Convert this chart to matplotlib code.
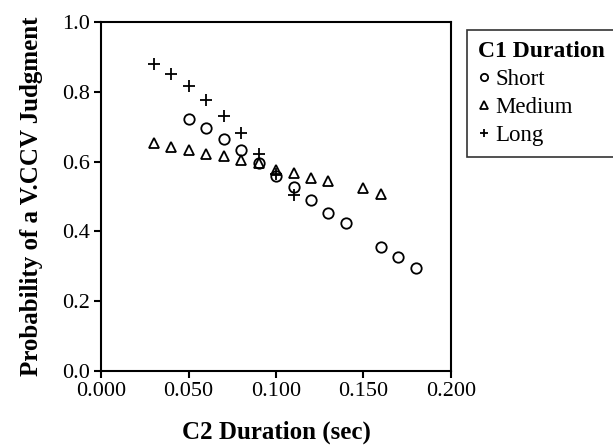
import matplotlib
matplotlib.use("Agg")
import matplotlib.pyplot as plt

# =====================
# data
# =====================
short_x = [0.05, 0.06, 0.07, 0.08, 0.09, 0.10, 0.11, 0.12, 0.13, 0.14, 0.16, 0.17, 0.18]
short_y = [0.721, 0.695, 0.665, 0.633, 0.597, 0.560, 0.526, 0.491, 0.454, 0.425, 0.356, 0.328, 0.296]

medium_x = [0.03, 0.04, 0.05, 0.06, 0.07, 0.08, 0.09, 0.10, 0.11, 0.12, 0.13, 0.15, 0.16]
medium_y = [0.652, 0.643, 0.633, 0.623, 0.615, 0.604, 0.595, 0.575, 0.566, 0.554, 0.543, 0.524, 0.508]

long_x = [0.03, 0.04, 0.05, 0.06, 0.07, 0.08, 0.09, 0.10, 0.11]
long_y = [0.879, 0.851, 0.816, 0.776, 0.730, 0.683, 0.622, 0.565, 0.503]

x_ticks = [0.0, 0.05, 0.10, 0.15, 0.20]
y_ticks = [0.0, 0.2, 0.4, 0.6, 0.8, 1.0]

plt.rcParams['font.family'] = ['Liberation Serif', 'DejaVu Serif']

fig = plt.figure(figsize=(6.13, 4.46), dpi=100)
ax = fig.add_axes([0.1648, 0.1682, 0.5709, 0.7825])

mk = dict(linestyle='none', color='black', mfc='none', mew=1.3)
ax.plot(short_x, short_y, marker='o', ms=7.5, label='Short', **mk)
ax.plot(medium_x, medium_y, marker='^', ms=7.5, label='Medium', **mk)
ax.plot(long_x, long_y, marker='+', ms=8.5, label='Long', **mk)

ax.set_xlim(0, 0.2)
ax.set_ylim(0, 1.0)
ax.set_xticks(x_ticks)
ax.set_xticklabels([f"{t:.3f}" for t in x_ticks])
ax.set_yticks(y_ticks)
ax.set_yticklabels([f"{t:.1f}" for t in y_ticks])
ax.tick_params(direction='out', length=5, width=1.5, labelsize=16, pad=3)
for s in ax.spines.values():
    s.set_linewidth(1.5)

ax.set_xlabel("C2 Duration (sec)", fontsize=18, fontweight='bold', labelpad=14)
ax.set_ylabel("Probability of a V.CCV Judgment", fontsize=18, fontweight='bold', labelpad=14)

leg = fig.legend(loc='upper left', bbox_to_anchor=(467/613, 1 - 30/446, 0.3, 0.001),
                 mode='expand', title='C1 Duration', frameon=True, fancybox=False,
                 fontsize=16.5, markerscale=0.7, handlelength=0.5, handletextpad=0.25,
                 labelspacing=0.3, borderpad=0.5, borderaxespad=0)
leg.get_title().set_fontweight('bold')
leg.get_title().set_fontsize(17)
leg._legend_box.align = 'left'
leg.get_frame().set_edgecolor('black')
leg.get_frame().set_linewidth(1.2)

fig.savefig("out.png", dpi=100)
